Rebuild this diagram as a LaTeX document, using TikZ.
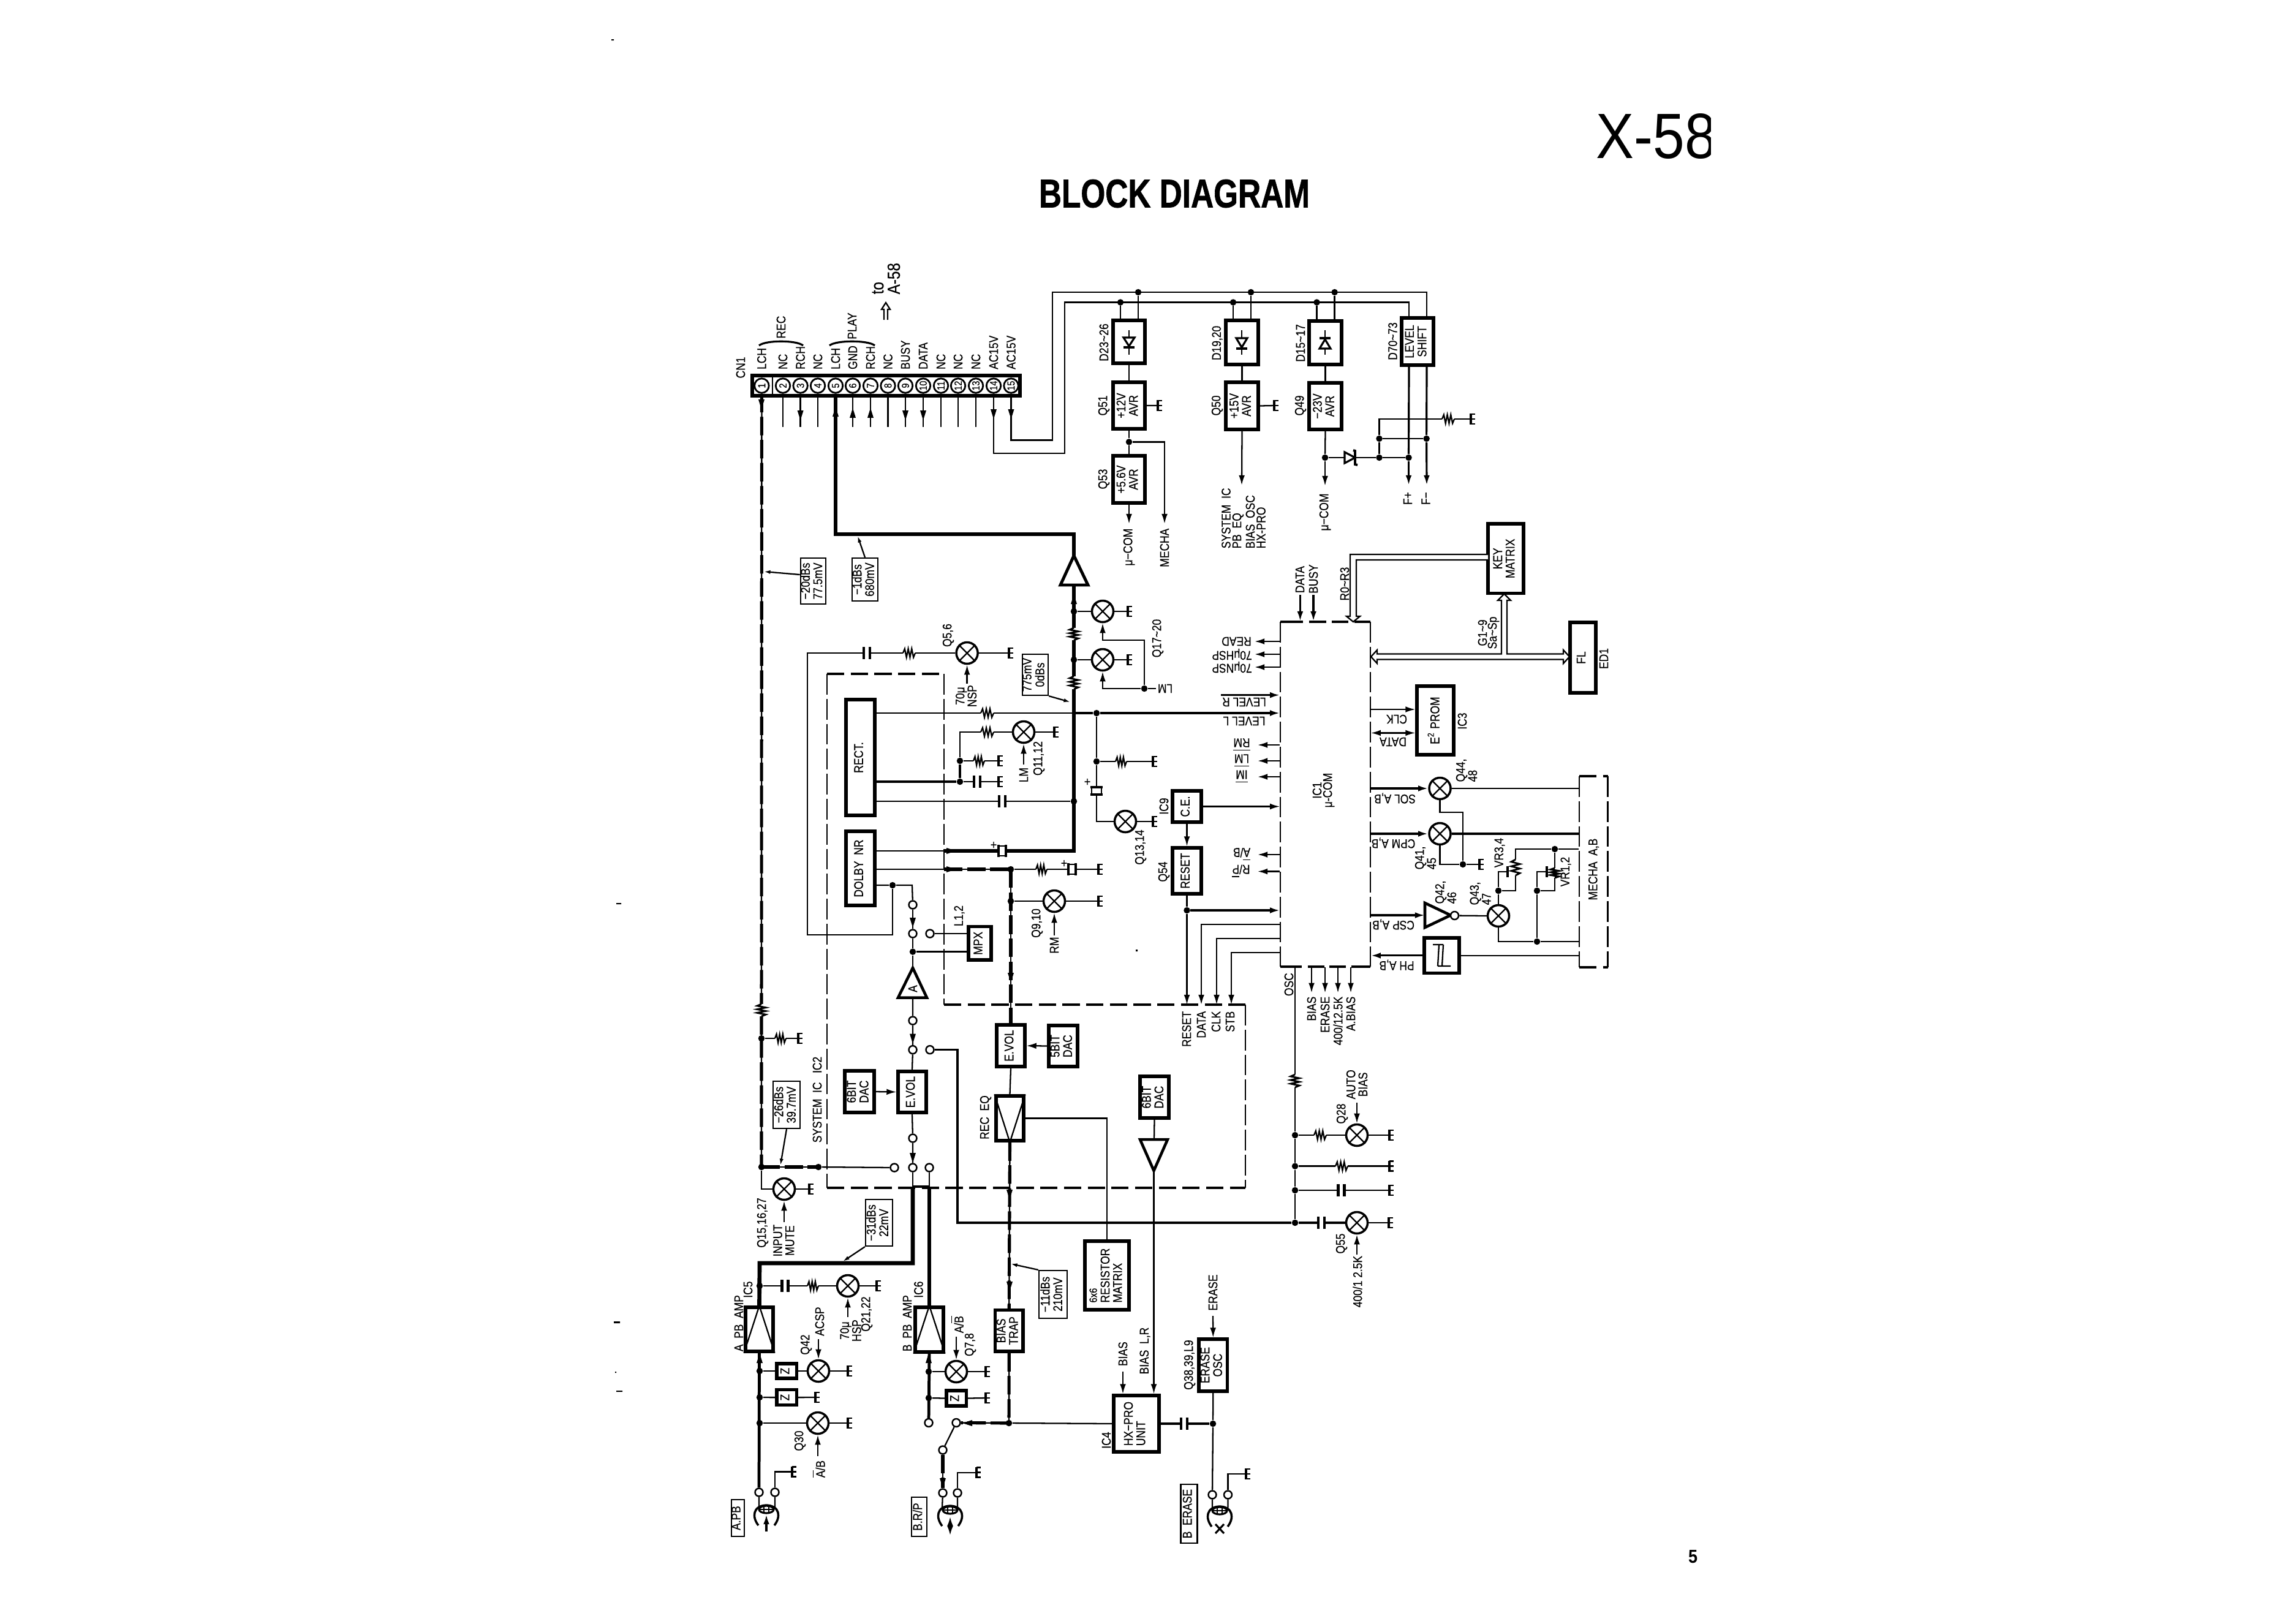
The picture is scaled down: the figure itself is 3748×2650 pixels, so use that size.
\documentclass[tikz,border=0pt]{standalone}
\usepackage{fontspec}
\usepackage{graphicx}
\setmainfont{Liberation Sans}[FakeStretch=0.84,FakeBold=0.35]
\newfontfamily\titlefont{Liberation Sans}
\newfontfamily\heavyfont{Liberation Sans}[FakeBold=1.2]
\usetikzlibrary{arrows.meta}

\newcounter{lbl}
\newcommand{\ovl}[1]{$\overline{\mbox{#1}}$}
\newcommand{\rt}[1]{\rotatebox{90}{\begin{tabular}{@{}c@{}}#1\end{tabular}}}
% rotated text: upward reading, upside down
\newcommand{\tv}[4][]{\stepcounter{lbl}\node[lab,rotate=90,#1] (tv\arabic{lbl}) at (#2,#3) {#4};}
\newcommand{\td}[4][]{\stepcounter{lbl}\node[lab,rotate=180,#1] (td\arabic{lbl}) at (#2,#3) {#4};}
% block and note boxes given by their corners
\newcommand{\blk}[6]{\pgfmathsetmacro\bcx{(#2+#4)/2}\pgfmathsetmacro\bcy{(#3+#5)/2}%
  \node[blockbox,minimum width={(#4-#2)*0.01cm},minimum height={(#5-#3)*0.01cm}] (#1) at (\bcx,\bcy) {\rt{#6}};}
\newcommand{\notebox}[6]{\pgfmathsetmacro\bcx{(#2+#4)/2}\pgfmathsetmacro\bcy{(#3+#5)/2}%
  \node[thinbox,minimum width={(#4-#2)*0.01cm},minimum height={(#5-#3)*0.01cm}] (#1) at (\bcx,\bcy) {\rt{#6}};}
% transistor, junction dot, switch contact
\newcommand{\trn}[3]{\node[trans] (#1) at (#2,#3) {};\draw[wire] (#1.45)--(#1.225) (#1.135)--(#1.-45);}
\newcommand{\jn}[3]{\node[jdot] (#1) at (#2,#3) {};}
\newcommand{\ct}[3]{\node[contact] (#1) at (#2,#3) {};}
% ground, resistors, capacitors
\newcommand{\gnd}[3]{\coordinate (#1) at (#2,#3);\draw[line width=1.1pt] (#2,#3-9)--(#2,#3+9);%
  \draw[line width=.8pt] (#2,#3-8)--++(7,0) (#2,#3)--++(7,0) (#2,#3+8)--++(7,0);}
\newcommand{\hres}[3]{\pgfmathsetmacro\rs{(#2-#1)/7}\draw[white,line width=2.4pt] (#1,#3)--(#2,#3);%
  \draw[wire] (#1,#3)--++(\rs,-7)--++(\rs,14)--++(\rs,-14)--++(\rs,14)--++(\rs,-14)--++(\rs,14)--++(\rs,-7);}
\newcommand{\vres}[3]{\pgfmathsetmacro\rs{(#3-#2)/7}\draw[white,line width=2.4pt] (#1,#2)--(#1,#3);%
  \draw[line width=.8pt] (#1,#2)--++(-7,\rs)--++(14,\rs)--++(-14,\rs)--++(14,\rs)--++(-14,\rs)--++(14,\rs)--++(-7,\rs);}
\newcommand{\hcap}[2]{\fill[white] (#1-5,#2-3) rectangle (#1+5,#2+3);\draw[line width=1.2pt] (#1-5,#2-10)--(#1-5,#2+10) (#1+5,#2-10)--(#1+5,#2+10);}
\newcommand{\hpcap}[2]{\fill[white] (#1-6,#2-9) rectangle (#1+6,#2+9);\draw[line width=1.2pt] (#1-6,#2-10)--(#1-6,#2+10) (#1+6,#2-10)--(#1+6,#2+10);\draw[wire] (#1-6,#2-8)--(#1+6,#2-8) (#1-6,#2+8)--(#1+6,#2+8);}
\newcommand{\vpcap}[2]{\fill[white] (#1-9,#2-6) rectangle (#1+9,#2+6);\draw[line width=1.2pt] (#1-10,#2-6)--(#1+10,#2-6) (#1-10,#2+6)--(#1+10,#2+6);\draw[wire] (#1-8,#2-6)--(#1-8,#2+6) (#1+8,#2-6)--(#1+8,#2+6);}
% small arrow heads placed on a wire
\newcommand{\midd}[2]{\fill (#1,#2)--(#1-5,#2-16)--(#1+5,#2-16)--cycle;}
\newcommand{\midu}[2]{\fill (#1,#2)--(#1-5,#2+16)--(#1+5,#2+16)--cycle;}
\newcommand{\midl}[2]{\fill (#1,#2)--(#1+16,#2-5)--(#1+16,#2+5)--cycle;}
\newcommand{\midr}[2]{\fill (#1,#2)--(#1-16,#2-5)--(#1-16,#2+5)--cycle;}
% dashed signal path: thin line with heavy dashes on it
\newcommand{\sig}[1]{\draw[wire] #1;\draw[sigd] #1;}
% rectifier bridge symbol in a box
\newcommand{\diode}[6]{\draw[wire] (#1,#2)--(#1,#3);\draw[wirem,fill=white] (#1-9,#4)--(#1+9,#4)--(#1,#5)--cycle;\draw[line width=1.4pt] (#1-9,#6)--(#1+9,#6);}
% tape head with mesh and pole crescents
\newcommand{\tapehead}[2]{\draw[line width=1pt] (#1-13,#2+26) .. controls (#1-24,#2+12) and (#1-22,#2-6) .. (#1,#2-7) .. controls (#1+22,#2-6) and (#1+24,#2+12) .. (#1+13,#2+26);%
  \draw[wirem] (#1,#2) ellipse (12 and 6);\draw[wire] (#1-4,#2-6)--(#1-4,#2+6) (#1+4,#2-6)--(#1+4,#2+6) (#1-12,#2)--(#1+12,#2);}

\tikzset{
  lab/.style={font=\fontsize{5.9}{5.6}\selectfont,inner sep=0pt,align=center},
  blockbox/.style={draw,line width=1.45pt,inner sep=0pt,font=\fontsize{5.9}{5.7}\selectfont},
  thinbox/.style={draw,line width=.65pt,inner sep=0pt,font=\fontsize{5.9}{5.7}\selectfont},
  trans/.style={circle,draw,line width=1pt,fill=white,minimum size=.35cm,inner sep=0pt},
  jdot/.style={circle,fill=black,minimum size=.105cm,inner sep=0pt},
  contact/.style={circle,draw,line width=.7pt,fill=white,minimum size=.13cm,inner sep=0pt},
  pinc/.style={circle,draw,line width=.8pt,fill=white,minimum size=.235cm,inner sep=0pt,font=\fontsize{4.8}{5}\selectfont},
  wire/.style={line width=.65pt},
  wirem/.style={line width=.9pt},
  bold/.style={line width=1.35pt},
  heavy/.style={line width=1.9pt},
  sigd/.style={line width=1.45pt,dash pattern=on 8.6pt off 2.1pt},
  dh/.style={line width=1.1pt,dash pattern=on 8pt off 3pt},
  dv/.style={line width=.75pt,dash pattern=on 9.6pt off 2pt},
  sa/.style={-{Latex[length=4.6pt,width=2.8pt]}},
  sl/.style={-{Latex[length=3pt,width=1.8pt]}},
}

\begin{document}
\begin{tikzpicture}[x=0.01cm,y=-0.01cm]
\useasboundingbox (0,0) rectangle (3748,2650);
\fill[white] (0,0) rectangle (3748,2650);

% heading, model number, page number
\node[inner sep=0pt] (title) at (1917,316) {\resizebox{4.42cm}{0.455cm}{\heavyfont\bfseries BLOCK DIAGRAM}};
\begin{scope}
\clip (2590,170) rectangle (2792,270);
\node[inner sep=0pt,anchor=west] (model) at (2605,222.5) {\resizebox{1.96cm}{0.73cm}{\titlefont X-58}};
\end{scope}
\node[inner sep=0pt] (pageno) at (2763.5,2541) {\resizebox{.15cm}{.21cm}{\titlefont\bfseries 5}};

% stray print specks
\fill (998,64) rectangle (1002,66) (1006,1474) rectangle (1014,1476) (1002,2157) rectangle (1012,2160)
      (1004,2239) rectangle (1006,2241) (1006,2270) rectangle (1016,2272) (1854,1550) rectangle (1857,1553);

% connector CN1
\blk{cn}{1228}{613}{1665}{646}{}
\draw[wire] (1261,613)--(1261,646);
\foreach \i/\x/\t in {1/1243.4/LCH,2/1278/NC,3/1306.6/RCH,4/1335/NC,5/1364/LCH,6/1392/GND,7/1421/RCH,8/1449.5/NC,9/1478/BUSY,10/1507/DATA,11/1536/NC,12/1564/NC,13/1593/NC,14/1622/AC15V,15/1650.5/AC15V}{
  \node[pinc] (pin\i) at (\x,629.6) {\rotatebox{90}{\i}};
  \node[lab,rotate=90,anchor=west] (pl\i) at (\x,603.6) {\t};
}
\foreach \i in {2,3,4,6,7,8,9,10,11,12,13}{\draw[wire] (pin\i.south)--++(0,54);}
\midd{1306.6}{686}\midu{1392}{666}\midu{1421}{666}\midd{1478}{686}\midd{1507}{686}\midd{1622}{684}\midd{1650.5}{684}
\tv{1209}{600}{CN1}
\draw[wirem] (1239,564) .. controls (1250,555) and (1300,555) .. (1311,564);
\draw[wirem] (1354,564) .. controls (1365,555) and (1417,555) .. (1428,564);
\tv{1275}{534}{REC}
\tv{1391}{532}{PLAY}
\tv[anchor=west,font=\fontsize{8.2}{8.5}\selectfont]{1433}{481}{to}
\tv[anchor=west,font=\fontsize{8.2}{8.5}\selectfont]{1459}{481}{A-58}
\coordinate (toA) at (1446,494);
\draw[wire] (1443,522)--(1443,505)--(1439,505)--(toA)--(1453,505)--(1449,505)--(1449,522);

% power supply blocks
\blk{d23}{1817}{523}{1869}{593}{}
\blk{q51}{1817}{624}{1869}{700}{+12V\\AVR}
\blk{q53}{1817}{744}{1869}{821}{+5.6V\\AVR}
\blk{d19}{2001}{523}{2054}{595}{}
\blk{q50}{2001}{624}{2054}{701}{+15V\\AVR}
\blk{d15}{2137}{524}{2190}{595}{}
\blk{q49}{2137}{625}{2190}{701}{−23V\\AVR}
\blk{lv}{2288}{519}{2340}{596}{LEVEL\\SHIFT}
\diode{1843}{539}{579}{551}{565}{567}
\diode{2027}{539}{579}{552}{567}{569}
\diode{2163}{539}{579}{569}{554}{552}
\tv{1802}{559}{D23\textasciitilde26}\tv{1802}{662}{Q51}\tv{1802}{782}{Q53}
\tv{1987}{560}{D19,20}\tv{1987}{662}{Q50}
\tv{2123}{560}{D15\textasciitilde17}\tv{2123}{662}{Q49}
\tv{2273.5}{557}{D70\textasciitilde73}

\coordinate (lvA) at (2300,519);
\coordinate (lvB) at (2329,519);
\jn{dA1}{1829}{493.5}\jn{dB1}{1858}{477}\jn{dA2}{2013}{493.5}\jn{dB2}{2042}{477}\jn{dA3}{2149.5}{493.5}\jn{dB3}{2178.6}{477}
\draw[wire] (pin15.south)--(1650.5,718.6)--(1718,718.6)--(1718,477)--(2329,477)--(lvB);
\draw[wire] (pin14.south)--(1622,740)--(1738,740)--(1738,493.5)--(2300,493.5)--(lvA);
\foreach \a/\b in {dA1/d23,dB1/d23,dA2/d19,dB2/d19,dA3/d15,dB3/d15}{\draw[wire] (\a)--(\a |- \b.north);}
\draw[wire] (d23)--(q51) (d19)--(q50) (d15)--(q49);
\jn{j51}{1843}{721.4}
\coordinate (com1) at (1843,855);
\coordinate (meTip) at (1901,855);
\draw[wire] (q51.south)--(j51)--(q53.north);
\draw[wire,sa] (q53.south)--(com1);
\draw[wire,sa] (j51) -| (meTip);
\tv[anchor=east]{1843}{862}{μ−COM}
\tv[anchor=east]{1901}{862}{MECHA}
\gnd{g51}{1890}{662}\gnd{g50}{2080}{662}
\draw[wire] (q51.east)--(g51) (q50.east)--(g50);
\coordinate (sysTip) at (2027,792);
\draw[wire,sa] (q50.south)--(sysTip);
\tv[anchor=west,align=left,font=\fontsize{5.9}{5}\selectfont]{2030}{896}{SYSTEM\ \ IC\\PB\ \ EQ\\BIAS\ \ OSC\\HX-PRO}
\jn{j49}{2163}{747}
\coordinate (com2) at (2163,793);
\draw[wire] (q49.south)--(j49);
\draw[wire,sa] (j49)--(com2);
\tv{2163}{836}{μ−COM}
\jn{jz}{2251.5}{747}\jn{jf}{2299.5}{747}\jn{jt1}{2251.5}{716}\jn{jt2}{2328.6}{716}
\coordinate (fp) at (2299.5,792);
\coordinate (fm) at (2329,792);
\draw[wire] (j49)--(2195,747) (2212,747)--(jz) (jz)--(jf);
\draw[wirem,fill=white] (2195,738)--(2195,756)--(2212,747)--cycle;
\draw[line width=1.1pt] (2209,735)--(2212,736)--(2212,758)--(2216,759);
\draw[wirem] (lvA|-lv.south)--(jf);
\draw[wirem,sa] (jf)--(fp);
\draw[wirem] (lvB|-lv.south)--(jt2);
\draw[wirem,sa] (jt2)--(fm);
\draw[wire] (jt1)--(jt2) (jz)--(jt1)--(2251.5,684)--(2401,684);
\hres{2354}{2374}{684}
\gnd{gls}{2401}{684}
\tv{2298}{813.6}{F+}\tv{2327.5}{813.6}{F−}

% key matrix, display, EEPROM
\blk{key}{2429}{855}{2487}{968.6}{KEY\\MATRIX}
\blk{fl}{2563}{1016}{2605}{1131}{FL}
\blk{prom}{2313}{1120}{2373}{1232}{E\textsuperscript{2} PROM}
\tv{2618}{1075}{ED1}\tv{2387}{1177}{IC3}

% micro-controller
\node[minimum width=1.47cm,minimum height=5.63cm,inner sep=0pt] (ic1) at (2163.5,1296.5) {};
\draw[dv] (2090,1015)--(2090,1578);
\draw[dv] (2237,1015)--(2237,1578);
\draw[line width=1.2pt] (2090,1015)--(2127,1015) (2137,1015)--(2165,1015) (2174,1015)--(2201,1015) (2211,1015)--(2237,1015)
   (2090,1578)--(2125,1578) (2135,1578)--(2162,1578) (2170,1578)--(2197,1578) (2206,1578)--(2237,1578);
\tv{2150}{1290}{IC1}\tv{2169}{1290}{μ-COM}

\coordinate (keyA) at (2429,905);
\coordinate (keyB) at (2429,914);
\draw[wire,fill=white] (keyA)--(2204,905)--(2204,1006)--(2198,1006)--(2209,1015)--(2220,1006)--(2214,1006)--(2214,914)--(keyB);
\coordinate (keyTip) at (2455.5,969.5);
\draw[wire,fill=white] (2451,1067.5)--(2451,980)--(2445,980)--(keyTip)--(2466,980)--(2460,980)--(2460,1067.5)--(2552,1067.5)--(2552,1061)--(2562,1072)--(2552,1083)--(2552,1076.5)--(2248,1076.5)--(2248,1083)--(2238,1072)--(2248,1061)--(2248,1067.5)--cycle;
\tv{2420}{1033}{G1\textasciitilde9}\tv{2438}{1033}{Sa\textasciitilde Sp}
\tv{2195}{953}{R0\textasciitilde R3}
\tv{2122}{946}{DATA}\tv{2144}{945}{BUSY}
\coordinate (datTop) at (2122.4,971);
\coordinate (bsyTop) at (2144,971);
\draw[wirem,sa] (datTop)--(datTop|-ic1.north);
\draw[wirem,sa] (bsyTop)--(bsyTop|-ic1.north);

% outputs and inputs on the left edge of IC1
\foreach \y/\x in {1047/2048,1068/2048,1089/2048,1216/2053,1242/2053,1268/2053,1395/2053,1422.5/2053}{\draw[wire,sa] (ic1.west|-0,\y)--(\x,\y);}
\td{2018.5}{1047}{READ}\td{2011}{1068}{70μHSP}\td{2011}{1089}{70μNSP}
\td{2031}{1146}{LEVEL R}\td{2031}{1177}{LEVEL L}
\td{2027}{1216}{\ovl{RM}}\td{2027}{1242}{\ovl{LM}}\td{2027}{1268}{\ovl{IM}}
\td{2027}{1395}{\ovl{A}/B}\td{2026}{1422.5}{R/\ovl{P}}
\coordinate (lvlR) at (1993,1134.6);
\draw[wirem,sa] (lvlR)--(ic1.west|-lvlR);

\blk{ceb}{1914}{1291}{1961}{1342}{C.E.}
\blk{rst}{1914}{1384}{1961}{1459}{RESET}
\tv{1900}{1316}{IC9}\tv{1900}{1423}{Q54}
\draw[wire,sa] (ceb.east)--(ic1.west|-ceb.east);
\draw[wire,sa] (ceb.south)--(rst.north);
\jn{jr}{1937.5}{1486}
\draw[wire] (rst.south)--(jr);
\draw[wirem,sa] (jr)--(ic1.west|-jr);
\coordinate (rsT) at (1937.5,1640);
\coordinate (daT) at (1961,1640);
\coordinate (ckT) at (1986,1640);
\coordinate (stT) at (2010,1640);
\draw[wire,sa] (jr)--(rsT);
\draw[wire,sa] (ic1.west|-0,1509) -| (daT);
\draw[wire,sa] (ic1.west|-0,1532) -| (ckT);
\draw[wire,sa] (ic1.west|-0,1555) -| (stT);
\tv[anchor=east]{1937}{1650}{RESET}\tv[anchor=east]{1961}{1650}{DATA}\tv[anchor=east]{1985}{1650}{CLK}\tv[anchor=east]{2008}{1650}{STB}

% lower edge of IC1
\foreach \x in {2141,2163,2184,2205}{\draw[wire,sa] (ic1.south west-|\x,0)--(\x,1620.7);}
\tv[anchor=east]{2141}{1626}{BIAS}\tv[anchor=east]{2163}{1626}{ERASE}\tv[anchor=east]{2184}{1626}{400/12.5K}\tv[anchor=east]{2205}{1626}{A.BIAS}
\tv{2104}{1607}{OSC}

% right edge of IC1: mechanism drive
\draw[wire,sa] (ic1.east|-0,1158)--(prom.west|-0,1158);
\draw[wire,{Latex[length=4.6pt,width=2.8pt]}-{Latex[length=4.6pt,width=2.8pt]}] (ic1.east|-0,1196.4)--(prom.west|-0,1196.4);
\td{2280}{1174}{CLK}\td{2274}{1211}{DATA}
\node[minimum width=.465cm,minimum height=3.116cm,inner sep=0pt] (mech) at (2601.2,1422.8) {};
\draw[dh] (2578,1267)--(2624.5,1267) (2578,1578.6)--(2624.5,1578.6);
\draw[dv] (2578,1267)--(2578,1578.6) (2624.5,1267)--(2624.5,1578.6);
\tv{2601.5}{1419}{MECHA\ \ A,B}
\trn{q44}{2350.5}{1287}\trn{q41}{2350.5}{1361}\trn{q43}{2446}{1495}
\draw[wirem,sa] (ic1.east|-q44)--(q44.west);
\draw[wirem,sa] (ic1.east|-q41)--(q41.west);
\draw[wire] (q44.east)--(mech.west|-q44);
\draw[wirem] (q41.east)--(mech.west|-q41);
\td{2277}{1303}{SOL A,B}\td{2274.5}{1376}{CPM A,B}\td{2274.5}{1509}{CSP A,B}\td{2280}{1575}{PH A,B}
\jn{jg}{2388}{1411}
\gnd{g41}{2415}{1411}
\draw[wire] (q44.south)--(2350.5,1326)--(2388,1326)--(jg);
\draw[wire] (q41.south)--(2350.5,1411)--(jg)--(g41);
\tv[anchor=west,align=left]{2394}{1277}{Q44,\\48}
\tv[anchor=west,align=left]{2327}{1420}{Q41,\\45}
\tv[anchor=west,align=left]{2360}{1476}{Q42,\\46}
\tv[anchor=west,align=left]{2416.5}{1478}{Q43,\\47}
\tv{2448}{1392}{VR3,4}\tv{2556}{1423}{VR1,2}
\coordinate (invB) at (2326,1494);
\draw[line width=1.3pt,fill=white] (invB|-0,1474)--(invB|-0,1514)--(2368,1494)--cycle;
\node[contact] (bub) at (2374.5,1494.5) {};
\draw[wire] (bub)--(q43.west);
\draw[wirem,sa] (ic1.east|-invB)--(invB);
\jn{jv1}{2538}{1386}\jn{jv2}{2509}{1454}\jn{jv3}{2446}{1454}\jn{jv4}{2509}{1537}
\draw[wire] (mech.west|-jv1)--(jv1)--(2474,1386)--(2474,1454)--(jv3)--(q43.north);
\draw[wire] (jv1)--(2538,1454)--(jv2)--(jv4);
\draw[wire] (q43.south)--(2446,1537)--(jv4)--(mech.west|-jv4);
\draw[wire] (jv3)--(2446,1423)--(2461,1423) (jv2)--(2509,1423)--(2525,1423);
\draw[wirem] (2461,1414)--(2461,1432) (2525,1414)--(2525,1432);
\vres{2474}{1403}{1429}\vres{2538}{1417}{1433}
\blk{sch}{2325}{1531}{2382}{1588.6}{}
\draw[wire] (2339,1542)--(2356,1542) (2349,1542)--(2347,1577) (2356,1542)--(2354,1577) (2347,1577)--(2368,1577);
\draw[wire] (mech.west|-sch)--(sch.east);
\draw[wirem,sa] (sch.west)--(ic1.east|-sch);

% -- audio section --
% system IC outline
\draw[dh] (1350,1100)--(1541,1100) (1541,1640)--(2033,1640) (1350,1938.6)--(2033,1938.6);
\draw[dv] (1350,1100)--(1350,1938.6) (1541,1100)--(1541,1640) (2033,1640)--(2033,1938.6);
\tv{1334}{1795}{SYSTEM\ \ IC\ \ \ IC2}

\blk{rect}{1381}{1142}{1428}{1331}{RECT.}
\blk{dolby}{1381}{1357}{1428}{1478}{DOLBY\ \ NR}
\blk{mpx}{1581}{1512.5}{1618}{1567}{MPX}
\blk{ev1}{1466}{1749}{1512}{1816}{E.VOL}
\blk{da6}{1379}{1748}{1427}{1816}{6BIT\\DAC}
\blk{ev2}{1627}{1673}{1673}{1741}{E.VOL}
\blk{da5}{1712}{1674}{1759}{1741}{5BIT\\DAC}
\blk{db6}{1861}{1757}{1908}{1825}{6BIT\\DAC}
\blk{recq}{1626}{1789}{1671}{1862}{}
\blk{trap}{1624.5}{2138.6}{1670}{2206}{BIAS\\TRAP}
\blk{rmx}{1771}{2026}{1843}{2138}{\begin{tabular}{@{}l@{}}{\fontsize{5}{5.5}\selectfont 6x6}\\RESISTOR\\MATRIX\end{tabular}}
\blk{hx}{1818}{2278}{1892}{2370}{\begin{tabular}{@{}l@{}}HX−PRO\\UNIT\end{tabular}}
\blk{era}{1957}{2186}{2003.6}{2271}{ERASE\\OSC}
\blk{ic5}{1217}{2134}{1262}{2206}{}
\blk{ic6}{1494}{2134}{1540}{2207}{}
\blk{z1}{1268}{2226}{1300.5}{2250}{Z}
\blk{z2}{1268}{2268.6}{1300.5}{2293.6}{Z}
\blk{z3}{1545}{2270}{1577.6}{2295}{Z}
\draw[wire] (recq.north west)--(recq.south)--(recq.north east);
\draw[wire] (ic5.north)--(ic5.south west) (ic5.north)--(ic5.south east);
\draw[wire] (ic6.north)--(ic6.south west) (ic6.north)--(ic6.south east);

% level notes
\notebox{n20}{1307}{911}{1348}{986}{−20dBs\\77.5mV}
\notebox{n1}{1391}{911}{1433}{981}{−1dBs\\680mV}
\notebox{n775}{1669}{1068}{1711}{1135}{775mV\\0dBs}
\notebox{n26}{1262}{1765}{1306}{1842}{−26dBs\\39.7mV}
\notebox{n31}{1413}{1958}{1457}{2034}{−31dBs\\22mV}
\notebox{n11}{1696}{2074}{1742}{2152}{−11dBs\\210mV}
\notebox{tagA}{1194}{2448}{1215}{2508}{A.PB}
\notebox{tagB}{1488}{2444}{1513}{2508}{B.R/P}
\notebox{tagE}{1927.5}{2423}{1954.5}{2519}{B\ \ ERASE}
\draw[wire,sl] (n20.west|-0,938)--(1247,933);
\draw[wire,sl] (n1.north)--(1400,875);
\draw[wire,sl] (n775.south east)--(1747,1146);
\draw[wire,sl] (n26.south)--(1274,1902);
\draw[wire,sl] (n31.south west)--(1376,2059);
\draw[wire,sl] (n11.north west)--(1650,2063);

% transistors
\trn{q56}{1578.6}{1066}\trn{q17a}{1800}{998}\trn{q17b}{1800}{1077}\trn{q11}{1671}{1195}
\trn{q13}{1837}{1341}\trn{q9}{1721}{1471}\trn{q15}{1280}{1941}\trn{q28}{2215}{1853}
\trn{q55}{2215}{1996}\trn{q21}{1384}{2099}\trn{q42}{1336}{2238}\trn{q30}{1335}{2323}\trn{q7}{1561}{2239}

% contacts and junctions
\ct{c1}{1490}{1477}\ct{c2}{1490}{1524}\ct{c3}{1518}{1524}\ct{c4}{1490}{1666}\ct{c5}{1490}{1713.6}\ct{c6}{1518}{1713.6}
\ct{c7}{1490}{1858}\ct{c8}{1490}{1906}\ct{c9}{1460}{1906}\ct{c10}{1517}{1906}
\ct{ca1}{1239}{2436}\ct{ca2}{1265}{2436}\ct{cb1}{1516}{2322.5}\ct{cb2}{1561}{2322.5}\ct{cb3}{1539}{2367}\ct{cb4}{1539}{2437}\ct{cb5}{1563}{2437}
\ct{ce1}{1979}{2440}\ct{ce2}{2004.5}{2440}
\jn{jt}{1753}{1308}\jn{j17a}{1753}{998}\jn{j17b}{1753}{1077}\jn{jq}{1868}{1124}\jn{jll}{1790}{1164}\jn{jlr}{1790}{1243}
\jn{jr1}{1567}{1242}\jn{jr2}{1567}{1276}\jn{jd}{1457}{1445}\jn{jm}{1490}{1553.6}
\jn{jev}{1650}{1419}\jn{j9}{1650}{1471}\jn{jl1}{1243}{1695}\jn{jl2}{1243}{1905}\jn{jn}{1336}{1905}
\jn{jc}{1647}{2323}\jn{je}{1980}{2324}\jn{jo1}{2114}{1853}\jn{jo2}{2114}{1903.6}\jn{jo3}{2114}{1943}\jn{jo}{2114}{1996}
\jn{ja1}{1240}{2099}\jn{ja2}{1240}{2238}\jn{ja3}{1240}{2281}\jn{ja4}{1240}{2323}\jn{jb1}{1516}{2239}\jn{jb2}{1516}{2282}

% output amplifier and heavy play path
\coordinate (t1a) at (1753,907);
\coordinate (t1b) at (1753,955);
\draw[line width=1.4pt] (t1a)--(1731,955)--(1776,955)--cycle;
\draw[heavy] (pin5.south)--(1364,872)--(1753,872)--(t1a);
\draw[heavy] (t1b)--(1753,1389)--(1541,1389);
\midu{1753}{970}\midu{1364}{664}
\vres{1753}{1025}{1045}\vres{1753}{1104}{1125}
\draw[wire] (j17a)--(q17a.west) (j17b)--(q17b.west);
\gnd{g17a}{1841}{998}\gnd{g17b}{1841}{1077}
\draw[wire] (q17a.east)--(g17a) (q17b.east)--(g17b);
\coordinate (lmE) at (1887,1124);
\draw[wire,sa] (jq)--(1868,1045)--(1800,1045)--(q17a.south);
\draw[wire,sa] (jq)--(1800,1124)--(q17b.south);
\draw[wire] (jq)--(lmE);
\td{1902}{1124}{LM}
\tv{1890}{1042}{Q17\textasciitilde20}

% record/level paths from RECT.
\draw[wire] (rect.east|-jll)--(1753,1164);
\draw[wirem] (1753,1164)--(jll);
\draw[wirem,sa] (jll)--(ic1.west|-jll);
\hres{1601}{1622}{1164}
\draw[wirem] (rect.east|-jr2)--(jr2)--(jr1);
\draw[wire] (jr1)--(1567,1195)--(q11.west);
\hres{1601}{1622}{1195}
\gnd{g11}{1721}{1195}\gnd{gr1}{1630}{1242}\gnd{gr2}{1630}{1276}
\draw[wire] (q11.east)--(g11) (jr1)--(gr1) (jr2)--(gr2);
\hres{1589}{1607}{1242}
\hcap{1595}{1276}
\draw[wire] (rect.east|-jt)--(jt);
\hcap{1636}{1308}
\coordinate (q11c) at (1671,1248);
\draw[wire,sa] (q11c)--(q11.south);
\tv{1671}{1265}{LM}\tv{1696}{1238}{Q11,12}
\gnd{gl1}{1882}{1243}\gnd{g13}{1882}{1341}
\draw[wire] (jll)--(jlr)--(1790,1341)--(q13.west);
\draw[wire] (jlr)--(gl1) (q13.east)--(g13);
\hres{1821}{1839}{1243}
\vpcap{1790}{1291}
\node[lab] (plus1) at (1775,1277) {+};
\tv{1862}{1383}{Q13,14}

% loop round the system IC
\draw[wire] (q56.west)--(1318,1066)--(1318,1526)--(1457,1526)--(jd);
\hres{1474}{1494}{1066}
\hcap{1415}{1066}
\gnd{g56}{1647}{1066}
\draw[wire] (q56.east)--(g56);
\coordinate (q56c) at (1578.6,1116);
\draw[wire,sa] (q56c)--(q56.south);
\tv{1548}{1037}{Q5,6}
\tv{1577}{1136}{70μ\\NSP}

% Dolby outputs
\draw[wire] (dolby.east|-jd)--(jd)--(1489,1445)--(c1);
\draw[wire] (c1)--(c2)--(jm)--(1490,1580);
\midd{1490}{1514}
\draw[wire] (c3)--(c3-|mpx.west) (jm)--(jm-|mpx.west);
\tv{1566}{1495}{L1,2}
\draw[wire] (dolby.east|-0,1389)--(1541,1389);
\midr{1561}{1389}
\hpcap{1636}{1389}
\node[lab] (plus2) at (1622,1380) {+};
\draw[wire] (dolby.east|-0,1419)--(1541,1419);
\sig{(1541,1419)--(jev.center)}
\midr{1561}{1419}
\gnd{g10}{1793}{1419}\gnd{g9}{1793}{1471}
\draw[wire] (jev)--(g10) (j9)--(q9.west) (q9.east)--(g9);
\hres{1691}{1709}{1419}
\hpcap{1750}{1419}
\node[lab] (plus3) at (1737,1410) {+};
\coordinate (q9c) at (1721,1527);
\draw[wire,sa] (q9c)--(q9.south);
\tv{1721}{1543}{RM}\tv{1693}{1507}{Q9,10}
\sig{(jev.center)--(j9.center)--(ev2.north)}
\midd{1650}{1604}
\draw[wire] (ev2.south)--(recq.north);
\draw[wire,sa] (da5.west)--(ev2.east);
\tv{1609}{1824}{REC\ \ EQ}
\draw[wire] (recq.east) -| (rmx.north);

% playback amp chain in the IC
\coordinate (ap) at (1490,1580);
\coordinate (ab) at (1490,1628.6);
\draw[line width=1.3pt] (ap)--(1466,1628.6)--(1513,1628.6)--cycle;
\node[lab,rotate=90] (ampA) at (1490,1614) {A};
\draw[wire] (ab)--(c4)--(c5)--(ev1.north);
\midd{1490}{1703.6}
\draw[wire,sa] (da6.east)--(ev1.west);
\draw[wire] (ev1.south)--(c7)--(c8);
\midd{1490}{1898}
\draw[wire] (c8)--(1490,1937) (c10)--(1517,1937);
\draw[wirem] (c6)--(1563,1713.6)--(1563,1996)--(jo);

% rec side of the head signal
\draw[wire] (db6.south)--(1884,1860);
\draw[line width=1.3pt] (1861,1860)--(1906,1860)--(1883.5,1911)--cycle;
\coordinate (dbA) at (1883.5,1911);
\draw[wire,sa] (dbA)--(dbA|-hx.north);
\coordinate (bias) at (1833,2238.6);
\draw[wire,sa] (bias)--(bias|-hx.north);
\tv{1833}{2210}{BIAS}\tv{1869}{2205}{BIAS\ \ L,R}
\tv{1806}{2351}{IC4}

% input mute on left path
\sig{(pin1.south)--(jl1.center)--(jl2.center)}
\draw[bold] (pin1.south)--++(0,30);
\midd{1243}{668}
\vres{1243}{1639}{1659}
\gnd{g1l}{1303}{1695}
\draw[wire] (jl1)--(g1l);
\hres{1265}{1283}{1695}
\sig{(jl2.center)--(jn.center)}
\draw[wire] (jn)--(c9);
\gnd{g15}{1321}{1941}
\draw[wire] (jl2)--(1243,1941)--(q15.west) (q15.east)--(g15);
\coordinate (q15c) at (1280,1995);
\draw[wire,sa] (q15c)--(q15.south);
\tv{1245}{1996}{Q15,16,27}
\tv{1279.5}{2025}{INPUT\\MUTE}

% bias and erase oscillator
\draw[wire] (ic1.south west-|2114,0)--(jo1)--(jo2)--(jo3)--(jo);
\vres{2114}{1754}{1775}
\gnd{g28}{2268}{1853}\gnd{gr3}{2268}{1903.6}\gnd{gr4}{2268}{1943}\gnd{g55}{2267}{1996}
\draw[wire] (jo1)--(q28.west) (q28.east)--(g28) (jo2)--(gr3) (jo3)--(gr4);
\draw[wirem] (jo)--(q55.west);
\draw[wire] (q55.east)--(g55);
\hres{2145}{2165}{1853}\hres{2180}{2200}{1903.6}
\hcap{2189.5}{1943}\hcap{2157}{1996}
\coordinate (q28c) at (2215,1800);
\coordinate (q55c) at (2215,2048);
\draw[wire,sa] (q28c)--(q28.north);
\draw[wire,sa] (q55c)--(q55.south);
\tv{2191}{1818}{Q28}
\tv[anchor=west]{2215}{1795}{AUTO\\BIAS}
\tv{2190}{2030}{Q55}\tv{2216}{2092}{400/1 2.5K}

% playback amplifiers and heads
\draw[heavy] (1490,1937)--(1490,2062)--(1240,2062)--(ic5.north);
\draw[heavy] (1517,1937)--(ic6.north);
\draw[wirem] (1490,1937)--(1517,1937);
\midu{1240}{2209}\midu{1516}{2209}
\draw[bold] (ic5.south)--(ca1);
\draw[bold] (ic6.south)--(cb1);
\gnd{g21}{1431}{2099}\gnd{g42}{1384}{2238}\gnd{gz2}{1331}{2281}\gnd{g30}{1384}{2323}\gnd{g7}{1609}{2239}\gnd{gz3}{1609}{2282}
\gnd{ghA}{1293}{2402.5}\gnd{ghB}{1594}{2403.6}\gnd{ghE}{2034}{2406}
\draw[wire] (ja1)--(q21.west) (q21.east)--(g21);
\hcap{1281.5}{2099}\hres{1318}{1336}{2099}
\draw[wire] (ja2)--(z1.west) (z1.east)--(q42.west) (q42.east)--(g42);
\draw[wire] (ja3)--(z2.west) (z2.east)--(gz2);
\draw[wire] (ja4)--(q30.west) (q30.east)--(g30);
\draw[wire] (jb1)--(q7.west) (q7.east)--(g7);
\draw[wire] (jb2)--(z3.west) (z3.east)--(gz3);
\coordinate (q21c) at (1384,2150);
\coordinate (q42c) at (1336,2186);
\coordinate (q30c) at (1335,2377);
\coordinate (q7c) at (1561,2182);
\draw[wire,sa] (q21c)--(q21.south);
\draw[wire,sa] (q42c)--(q42.north);
\draw[wire,sa] (q30c)--(q30.south);
\draw[wire,sa] (q7c)--(q7.north);
\tv{1206}{2160}{A\ \ PB\ \ AMP}\tv{1221}{2105}{IC5}
\tv{1481}{2160}{B\ \ PB\ \ AMP}\tv{1499.5}{2105}{IC6}
\tv{1388.5}{2172}{70μ\\HSP}\tv{1415}{2145}{Q21,22}
\tv{1316}{2195}{Q42}\tv{1338}{2157}{ACSP}
\tv{1306}{2352}{Q30}\tv{1336}{2398}{\ovl{A}/B}
\tv{1584}{2195}{Q7,8}\tv{1562}{2162}{A/\ovl{B}}
\draw[wire] (ca2)--(1265,2402.5)--(ghA) (cb5)--(1563,2403.6)--(ghB) (ce2)--(2004.5,2406)--(ghE);
\draw[wire] (ca1)--(1239,2461) (ca2)--(1265,2461) (cb4)--(1538,2461) (cb5)--(1563,2461) (ce1)--(1979,2461) (ce2)--(2004.5,2461);
\tapehead{1251}{2464}\tapehead{1551}{2465}\tapehead{1991}{2466}
\coordinate (hdA) at (1251,2500);
\coordinate (hdB) at (1551,2507);
\draw[wirem,sa] (hdA)--(1251,2472);
\draw[wirem,{Latex[length=4.6pt,width=2.8pt]}-{Latex[length=4.6pt,width=2.8pt]}] (hdB)--(1551,2475);
\draw[wirem] (1984,2488)--(1998,2503) (1998,2488)--(1984,2503);

% record path through the bias trap
\sig{(recq.south)--(trap.north)}
\midd{1648}{1958}\midd{1648}{2108}
\sig{(trap.south)--(jc.center)}
\sig{(jc.center)--(cb2.east)}
\draw[wire] (jc)--(hx.west);
\midl{1571}{2323}
\draw[wire] (cb3)--(cb2);
\sig{(cb3.south)--(cb4.north)}
\midd{1539}{2429}

% HX-PRO and erase oscillator
\tv{1942}{2228}{Q38,39,L9}
\coordinate (erC) at (1980,2148);
\draw[wire,sa] (erC)--(era.north);
\tv{1980}{2110}{ERASE}
\draw[wire] (era.south)--(je)--(ce1);
\draw[wirem] (hx.east)--(je);
\hcap{1933}{2324}
\end{tikzpicture}
\end{document}
